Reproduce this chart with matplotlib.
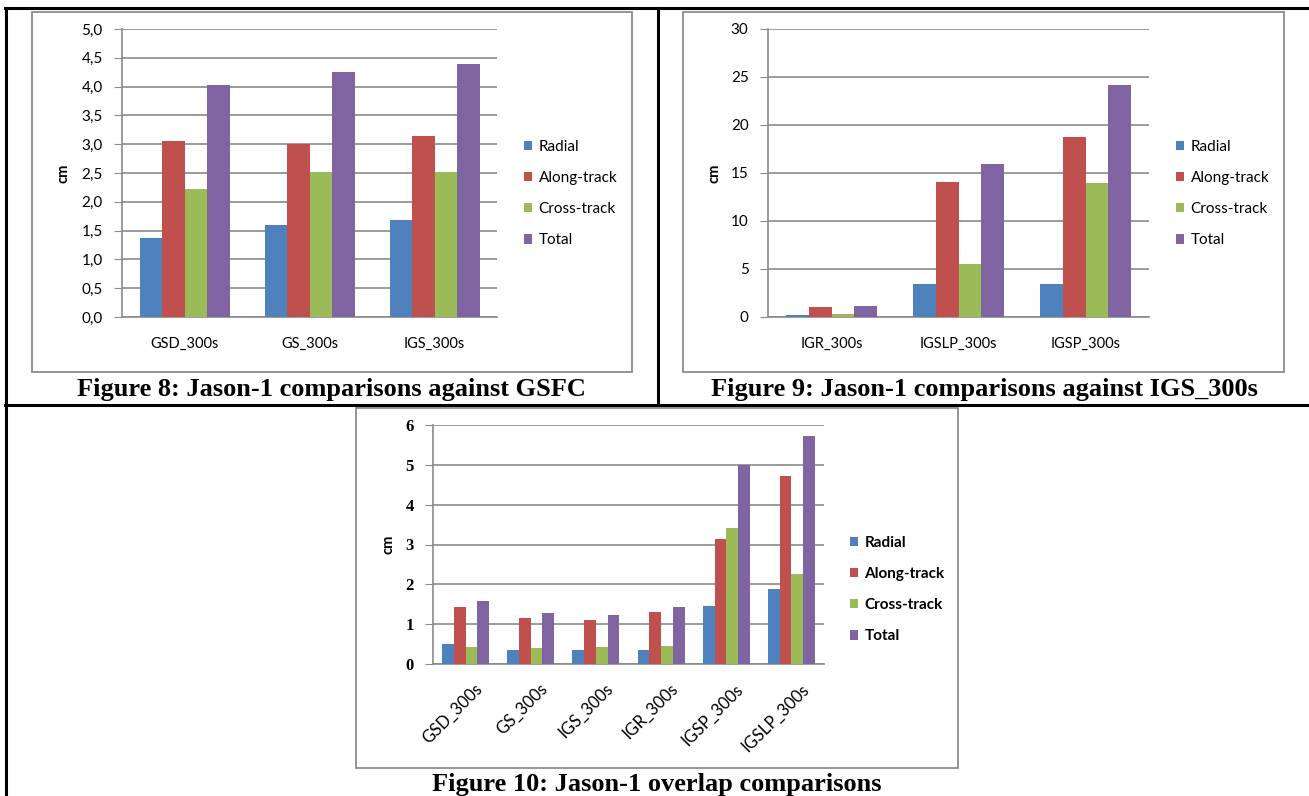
import numpy as np
import matplotlib.pyplot as plt
import matplotlib.transforms as mtransforms
from matplotlib.patches import Rectangle
from matplotlib.lines import Line2D

W, H = 1309, 796

series = ["Radial", "Along-track", "Cross-track", "Total"]
colors = ["#4F81BD", "#C0504D", "#9BBB59", "#8064A2"]

# Figure 8: comparisons against GSFC
fig8_cats = ["GSD_300s", "GS_300s", "IGS_300s"]
fig8_radial = [1.38, 1.59, 1.68]
fig8_along = [3.05, 3.00, 3.14]
fig8_cross = [2.22, 2.52, 2.52]
fig8_total = [4.03, 4.25, 4.40]
fig8_ticks = [0.0, 0.5, 1.0, 1.5, 2.0, 2.5, 3.0, 3.5, 4.0, 4.5, 5.0]
fig8_ticklabels = ["0,0", "0,5", "1,0", "1,5", "2,0", "2,5", "3,0", "3,5", "4,0", "4,5", "5,0"]

# Figure 9: comparisons against IGS_300s
fig9_cats = ["IGR_300s", "IGSLP_300s", "IGSP_300s"]
fig9_radial = [0.17, 3.41, 3.41]
fig9_along = [1.04, 14.1, 18.8]
fig9_cross = [0.28, 5.57, 13.96]
fig9_total = [1.18, 15.9, 24.15]
fig9_ticks = [0, 5, 10, 15, 20, 25, 30]

# Figure 10: overlap comparisons
fig10_cats = ["GSD_300s", "GS_300s", "IGS_300s", "IGR_300s", "IGSP_300s", "IGSLP_300s"]
fig10_radial = [0.51, 0.34, 0.34, 0.36, 1.45, 1.88]
fig10_along = [1.42, 1.15, 1.10, 1.30, 3.14, 4.72]
fig10_cross = [0.42, 0.39, 0.42, 0.44, 3.41, 2.26]
fig10_total = [1.59, 1.27, 1.22, 1.42, 5.00, 5.72]
fig10_ticks = [0, 1, 2, 3, 4, 5, 6]

SANS = ["Lato", "DejaVu Sans"]
SERIF = ["Liberation Serif", "DejaVu Serif"]
GRID = "#8a8a8a"


def box(left, top, right, bottom):
    # pixel box -> figure fraction [x, y, w, h]
    return [left / W, 1 - bottom / H, (right - left) / W, (bottom - top) / H]


def frame(left, top, right, bottom):
    fig.add_artist(Rectangle((left / W, 1 - bottom / H), (right - left) / W, (bottom - top) / H,
                             transform=fig.transFigure, fill=False, edgecolor="#8c8c8c", lw=1.3))


def hline(y, x0, x1, lw=2.2):
    fig.add_artist(Line2D([x0 / W, x1 / W], [1 - y / H, 1 - y / H], transform=fig.transFigure,
                          color="black", lw=lw))


def vline(x, y0, y1, lw=2.2):
    fig.add_artist(Line2D([x / W, x / W], [1 - y0 / H, 1 - y1 / H], transform=fig.transFigure,
                          color="black", lw=lw))


def bar_chart(rect, cats, values, ymax, ticks, ticklabels, legend_xy, label_x,
              tick_font=SANS, tick_size=11, tick_weight="normal", rotate=False, legend_bold=False):
    ax = fig.add_axes(box(*rect))
    x = np.arange(len(cats))
    width = 0.18
    bars = []
    for i, vals in enumerate(values):
        b = ax.bar(x + (i - 1.5) * width, vals, width, color=colors[i], zorder=3)
        bars.append(b)

    ax.set_xlim(-0.5, len(cats) - 0.5)
    ax.set_ylim(0, ymax)
    ax.set_yticks(ticks)
    ax.set_yticklabels(ticklabels, family=tick_font, fontsize=tick_size, fontweight=tick_weight)
    ax.yaxis.grid(True, color=GRID, lw=1.2, zorder=0)
    ax.set_axisbelow(True)
    ax.tick_params(axis="y", length=6, color=GRID, pad=8)
    ax.set_xticks(x)
    if rotate:
        ax.set_xticklabels(cats, family=SANS, fontsize=12, rotation=45, ha="right",
                           rotation_mode="anchor")
        ax.tick_params(axis="x", length=0, pad=12)
        shift = mtransforms.ScaledTranslation(9 / 100, 0, fig.dpi_scale_trans)
        for lab in ax.get_xticklabels():
            lab.set_transform(lab.get_transform() + shift)
    else:
        ax.set_xticklabels(cats, family=SANS, fontsize=10.5)
        ax.tick_params(axis="x", length=0, pad=14)
    for s in ["top", "right"]:
        ax.spines[s].set_visible(False)
    ax.spines["left"].set_color(GRID)
    ax.spines["bottom"].set_color(GRID)
    ax.spines["left"].set_linewidth(1.2)
    ax.spines["bottom"].set_linewidth(1.2)

    # y label "cm"
    top, bottom = rect[1], rect[3]
    fig.text(label_x / W, 1 - (top + bottom) / 2 / H, "cm", rotation=90, ha="center", va="center",
             family=SANS, fontsize=10.5, fontweight="bold")

    ax.legend(bars, series, loc="upper left", bbox_to_anchor=(legend_xy[0] / W, 1 - legend_xy[1] / H),
              bbox_transform=fig.transFigure, frameon=False, borderpad=0, borderaxespad=0,
              handlelength=0.55, handleheight=0.55, handletextpad=0.4, labelspacing=1.12,
              prop={"family": SANS, "size": 11, "weight": "bold" if legend_bold else "normal"})
    return ax


fig = plt.figure(figsize=(W / 100, H / 100), dpi=100)

# table borders
hline(8, 5, W)
hline(405, 5, W)
vline(6, 8, H)
vline(658, 8, 405)

# chart frames
frame(32, 12, 632, 372)
frame(683, 12, 1284, 372)
frame(356, 408, 958, 768)

bar_chart((122, 29, 497, 317), fig8_cats, [fig8_radial, fig8_along, fig8_cross, fig8_total],
          5.0, fig8_ticks, fig8_ticklabels, (524, 140), 63)
bar_chart((768, 29, 1149, 317), fig9_cats, [fig9_radial, fig9_along, fig9_cross, fig9_total],
          30, fig9_ticks, [str(t) for t in fig9_ticks], (1176, 140), 715)
bar_chart((433, 425, 824, 664), fig10_cats, [fig10_radial, fig10_along, fig10_cross, fig10_total],
          6, fig10_ticks, [str(t) for t in fig10_ticks], (850, 536), 388,
          tick_font=SERIF, tick_size=12, tick_weight="bold", rotate=True, legend_bold=True)

# captions
fig.text(331 / W, 1 - 390 / H, "Figure 8: Jason-1 comparisons against GSFC", ha="center", va="center",
         family=SERIF, fontsize=19, fontweight="bold")
fig.text(984 / W, 1 - 390 / H, "Figure 9: Jason-1 comparisons against IGS_300s", ha="center", va="center",
         family=SERIF, fontsize=19, fontweight="bold")
fig.text(657 / W, 1 - 785 / H, "Figure 10: Jason-1 overlap comparisons", ha="center", va="center",
         family=SERIF, fontsize=19, fontweight="bold")

fig.savefig("out.png", dpi=100)
